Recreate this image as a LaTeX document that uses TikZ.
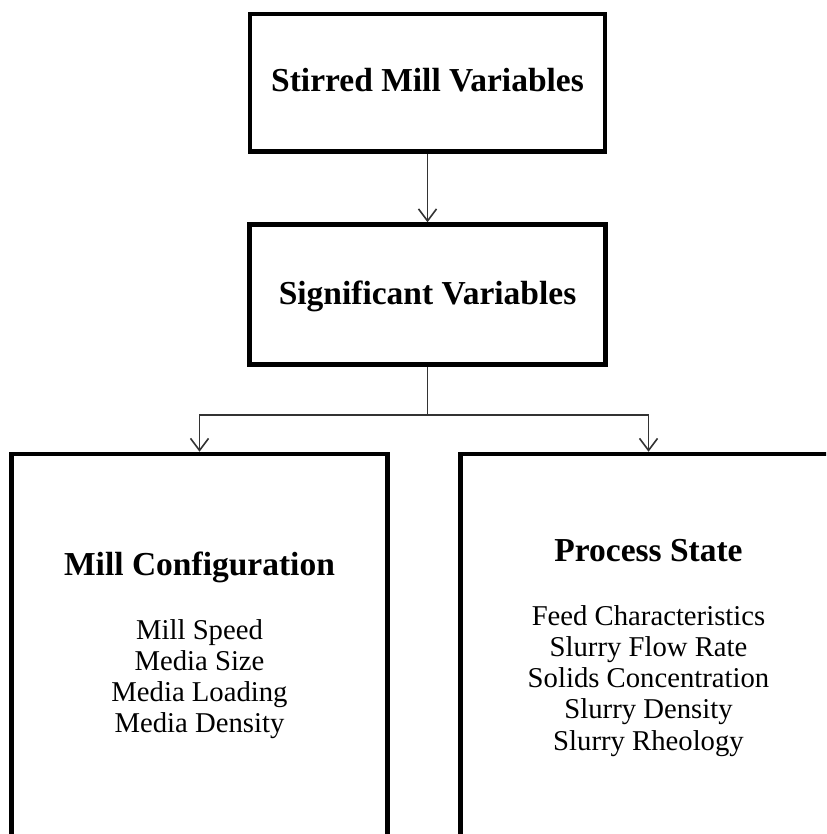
\documentclass[tikz,border=0pt]{standalone}
\usepackage{fontspec}
\setmainfont{Liberation Serif}
\usetikzlibrary{arrows.meta}
\begin{document}
\begin{tikzpicture}[x=1pt,y=-1pt,
  box/.style={draw, line width=4.5pt, rectangle, inner sep=0pt},
  conn/.style={draw=black!80, line width=1.6pt},
  arr/.style={conn, -{Straight Barb[length=12pt,width=18pt,line width=1.6pt]}},
  head/.style={font=\fontsize{33.5}{39}\selectfont\bfseries, anchor=base, inner sep=0pt},
  item/.style={font=\fontsize{28.7}{33}\selectfont, anchor=base, inner sep=0pt}]
\useasboundingbox (0,0) rectangle (826,834);
\clip (0,0) rectangle (826,834);
% boxes
\node[box, minimum width=355pt, minimum height=137.5pt] (top) at (427.5,82.75) {};
\node[box, minimum width=356pt, minimum height=140pt] (sig) at (427.5,294.5) {};
\node[box, minimum width=376pt, minimum height=382pt] (left) at (199.5,645) {};
\node[box, minimum width=376pt, minimum height=382pt] (right) at (648.5,645) {};
% headings
\node[head] (toptxt) at (427.5,92) {Stirred Mill Variables};
\node[head] (sigtxt) at (427.5,304) {Significant Variables};
\node[head] (lefttxt) at (199.5,575) {Mill Configuration};
\node[head] (righttxt) at (648.5,561) {Process State};
% items
\foreach \t [count=\i from 0] in {Mill Speed, Media Size, Media Loading, Media Density}
  \node[item] (l\i) at (199.5,639+31.3*\i) {\t};
\foreach \t [count=\i from 0] in {Feed Characteristics, Slurry Flow Rate, Solids Concentration, Slurry Density, Slurry Rheology}
  \node[item] (r\i) at (648.5,625+31.3*\i) {\t};
% connectors
\coordinate (fork) at (427.5,415);
\draw[arr] (top.south) -- (sig.north);
\draw[conn] (sig.south) -- (fork);
\draw[arr] (fork) -| (left.north);
\draw[arr] (fork) -| (right.north);
\end{tikzpicture}
\end{document}
